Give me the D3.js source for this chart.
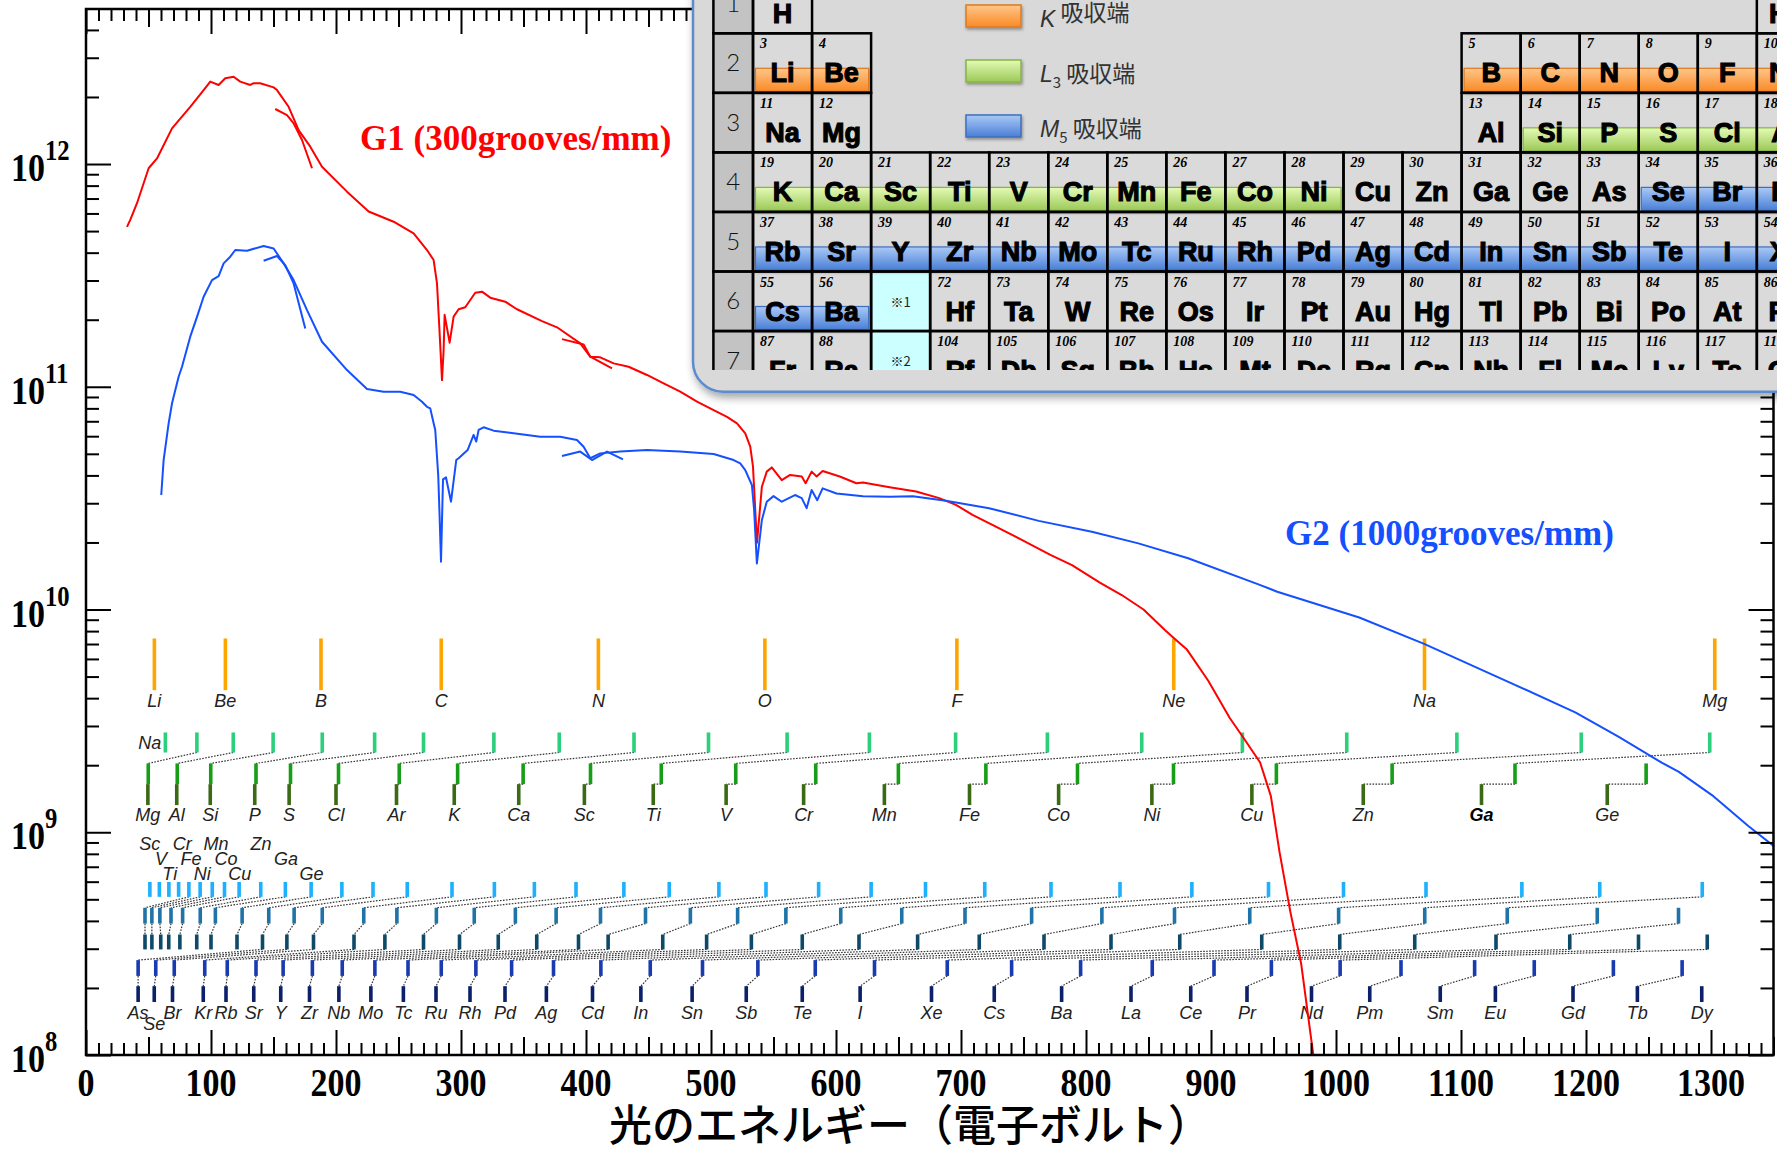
<!DOCTYPE html>
<html>
<head>
<meta charset="utf-8">
<script src="https://cdn.jsdelivr.net/npm/d3@7"></script>
<style>
  body { margin: 0; background: #fff; }
  svg { display: block; }
</style>
</head>
<body>
<svg id="chart" width="1777" height="1154"></svg>
<script>
// ---- photon flux curves: [photon energy (eV), log10(flux)] ----
var g1Main = [[32.8,11.718],[35.4,11.749],[40.8,11.824],[50.1,11.981],[56.8,12.025],[68.8,12.160],[83.4,12.257],[94.1,12.332],[99.4,12.370],[106.1,12.355],[111.4,12.385],[118.1,12.392],[123.4,12.370],[131.4,12.355],[134.1,12.363],[139.4,12.363],[150.1,12.344],[152.8,12.332],[162.1,12.257],[170.1,12.152],[179.4,12.078],[188.8,11.988],[208.8,11.876],[226.1,11.787],[246.1,11.741],[262.1,11.689],[272.8,11.614],[278.1,11.569],[280.8,11.464],[282.9,11.240],[284.8,11.030],[286.1,11.165],[286.9,11.323],[290.9,11.198],[294.1,11.315],[298.1,11.348],[303.4,11.357],[311.4,11.422],[316.8,11.427],[323.4,11.400],[335.4,11.382],[344.8,11.348],[364.8,11.295],[376.8,11.267],[395.4,11.195],[403.4,11.135],[411.4,11.132],[422.1,11.105],[434.1,11.090],[448.8,11.053],[462.1,11.015],[475.4,10.978],[488.8,10.933],[502.1,10.895],[512.8,10.865],[520.8,10.836],[527.4,10.791],[531.4,10.731],[533.6,10.641],[535.4,10.446],[536.8,10.300],[540.7,10.551],[544.6,10.619],[548.6,10.638],[556.6,10.581],[563.3,10.604],[572.6,10.597],[575.7,10.567],[580.5,10.619],[584.5,10.597],[589.3,10.622],[603.0,10.597],[616.3,10.567],[621.6,10.570],[642.9,10.549],[664.1,10.530],[682.6,10.500],[695.9,10.470],[709.2,10.425],[725.1,10.380],[749.0,10.312],[771.5,10.245],[788.8,10.199],[811.4,10.120],[828.6,10.065],[846.0,10.000],[863.1,9.908],[870.2,9.872],[880.5,9.822],[897.8,9.680],[915.0,9.513],[925.4,9.429],[939.3,9.313],[947.9,9.162],[954.8,8.912],[963.4,8.645],[972.1,8.411],[982.4,7.977]];
var g1Piece1 = [[151.4,12.247],[160.8,12.220],[166.1,12.183],[172.8,12.108],[180.8,11.981]];
var g1Piece2 = [[380.8,11.214],[398.1,11.190],[403.4,11.135],[420.8,11.083]];

var g2Main = [[60.2,10.514],[62.1,10.671],[66.1,10.836],[68.8,10.925],[70.1,10.955],[74.1,11.045],[76.8,11.090],[83.4,11.225],[88.8,11.314],[94.1,11.404],[100.8,11.479],[106.1,11.497],[110.1,11.554],[115.4,11.584],[119.4,11.614],[128.8,11.611],[142.1,11.632],[150.1,11.621],[158.1,11.554],[166.1,11.479],[176.8,11.344],[188.8,11.202],[208.8,11.075],[224.8,10.990],[238.1,10.978],[251.4,10.978],[262.1,10.963],[268.8,10.933],[272.8,10.910],[275.4,10.903],[278.1,10.836],[279.4,10.806],[280.8,10.686],[281.8,10.600],[282.9,10.416],[284.0,10.215],[285.6,10.584],[288.0,10.593],[292.0,10.484],[296.2,10.671],[298.1,10.679],[305.3,10.716],[310.1,10.784],[312.2,10.754],[314.1,10.806],[318.1,10.818],[326.1,10.803],[342.1,10.791],[363.4,10.776],[379.4,10.776],[392.8,10.761],[398.1,10.731],[403.4,10.679],[411.4,10.701],[427.4,10.709],[448.8,10.716],[475.4,10.709],[502.1,10.698],[518.1,10.671],[523.4,10.656],[527.4,10.626],[532.7,10.559],[534.5,10.446],[536.7,10.207],[540.7,10.402],[544.6,10.484],[550.0,10.509],[556.6,10.484],[567.2,10.514],[572.6,10.500],[576.5,10.455],[580.5,10.537],[585.0,10.491],[589.3,10.544],[600.4,10.521],[621.6,10.509],[642.9,10.506],[661.4,10.509],[687.9,10.488],[722.5,10.455],[762.2,10.398],[804.7,10.349],[841.9,10.297],[881.7,10.230],[937.4,10.114],[953.0,10.080],[1018.6,9.964],[1070.5,9.846],[1139.6,9.671],[1191.4,9.538],[1225.9,9.429],[1260.5,9.313],[1274.3,9.271],[1301.9,9.162],[1329.6,9.029],[1350.3,8.937]];
var g2Piece1 = [[142.1,11.566],[152.8,11.587],[159.4,11.546],[166.1,11.464],[175.4,11.262]];
var g2Piece2 = [[380.8,10.689],[395.4,10.709],[404.8,10.671],[416.8,10.709],[429.6,10.674]];

// ---- absorption edges (eV) ----
var kNames = ["Li","Be","B","C","N","O","F","Ne","Na","Mg"];
var kEv = [54.7,111.5,188,284.2,409.9,543.1,696.7,870.2,1070.8,1303.0];

var lNames = ["Na","Mg","Al","Si","P","S","Cl","Ar","K","Ca","Sc","Ti","V","Cr","Mn","Fe","Co","Ni","Cu","Zn","Ga","Ge"];
var l1Ev = [63.5,88.7,117.8,149.7,189,230.9,270,326.3,378.6,438.4,498.0,560.9,626.7,695.7,769.1,844.6,925.1,1008.6,1096.7,1196.2,1299.0,null];
var l2Ev = [null,49.8,73.0,99.8,136,163.6,202,250.6,297.3,349.7,403.6,460.2,519.8,583.8,649.9,719.9,793.2,870.0,952.3,1044.9,1143.2,1248.1];
var l3Ev = [null,49.5,72.6,99.4,135,162.5,200,248.4,294.6,346.2,398.7,453.8,512.1,574.1,638.7,706.8,778.1,852.7,932.7,1021.8,1116.4,1217.0];

var mNames = ["Sc","Ti","V","Cr","Mn","Fe","Co","Ni","Cu","Zn","Ga","Ge","As","Se","Br","Kr","Rb","Sr","Y","Zr","Nb","Mo","Tc","Ru","Rh","Pd","Ag","Cd","In","Sn","Sb","Te","I","Xe","Cs","Ba","La","Ce","Pr","Nd","Pm","Sm","Eu","Gd","Tb","Dy"];
var m1Ev = [51.1,58.7,66.3,74.1,82.3,91.3,101.0,110.8,122.5,139.8,159.5,180.1,204.7,229.6,257,292.8,326.7,358.7,392.0,430.3,466.6,506.3,544,586.1,628.1,671.6,719.0,772.0,827.2,884.7,946,1006,1072,1148.7,1211,1293,null,null,null,null,null,null,null,null,null,null];
var m2Ev = [null,null,null,null,47.2,52.7,59.1,68.0,77.3,91.4,103.5,124.9,146.2,166.5,189,222.2,248.7,280.3,310.6,343.5,376.1,411.6,447.6,483.5,521.3,559.9,603.8,652.6,703.2,756.5,812.7,870.8,931,1002.1,1071,1137,1209,1274,null,null,null,null,null,null,null,null];
var m3Ev = [null,null,null,null,47.2,52.7,59.8,66.2,75.1,88.6,100.0,120.8,141.2,160.7,182,214.4,239.1,270.0,298.8,329.8,360.6,394.0,417.7,461.4,496.5,532.3,573.0,618.4,665.3,714.6,766.4,820.0,875,940.6,1003,1063,1128,1187,1242,1297,null,null,null,null,null,null];
var m4Ev = [null,null,null,null,null,null,null,null,null,null,null,null,41.7,55.8,70.6,95.0,113,136,157.7,181.1,205.0,231.1,257.6,284.2,311.9,340.5,374.0,411.9,451.4,493.2,537.5,583.4,630.8,689.0,740.5,795.7,853,902.4,948.3,1003.3,1052,1110.9,1158.6,1221.9,1276.9,null];
var m5Ev = [null,null,null,null,null,null,null,null,null,null,null,null,41.7,54.6,69.2,93.8,112,134.2,155.8,178.8,202.3,227.9,253.9,280.0,307.2,335.2,368.3,405.2,443.9,484.9,528.2,573.0,619.3,676.4,726.6,780.5,836,883.8,928.8,980.4,1027,1083.4,1127.5,1189.6,1241.1,1292.6];
// labels of the light-element M1 bars (name, energy under label, stack line)
var mTopLabels = [["Sc",51,0],["Cr",77,0],["Mn",104,0],["Zn",140,0],["V",60,1],["Fe",84,1],["Co",112,1],["Ga",160,1],["Ti",67,2],["Ni",93,2],["Cu",123,2],["Ge",180.5,2]];

// ---- axis ticks ----
var xMajor = d3.range(0, 1351, 100);
var yMajor = [1e8, 1e9, 1e10, 1e11, 1e12];

// ---- periodic table inset ----
var ptRows = [
  {row:1, col:1, z:1, syms:"H"}, {row:1, col:18, z:2, syms:"He"},
  {row:2, col:1, z:3, syms:"Li Be"}, {row:2, col:13, z:5, syms:"B C N O F Ne"},
  {row:3, col:1, z:11, syms:"Na Mg"}, {row:3, col:13, z:13, syms:"Al Si P S Cl Ar"},
  {row:4, col:1, z:19, syms:"K Ca Sc Ti V Cr Mn Fe Co Ni Cu Zn Ga Ge As Se Br Kr"},
  {row:5, col:1, z:37, syms:"Rb Sr Y Zr Nb Mo Tc Ru Rh Pd Ag Cd In Sn Sb Te I Xe"},
  {row:6, col:1, z:55, syms:"Cs Ba"}, {row:6, col:4, z:72, syms:"Hf Ta W Re Os Ir Pt Au Hg Tl Pb Bi Po At Rn"},
  {row:7, col:1, z:87, syms:"Fr Ra"}, {row:7, col:4, z:104, syms:"Rf Db Sg Bh Hs Mt Ds Rg Cn Nh Fl Mc Lv Ts Og"}
];
var ptSeries = [{row:6, col:3, text:"※1"}, {row:7, col:3, text:"※2"}];
var bandSpans = [
  {edge:"K", row:2, from:1, to:2}, {edge:"K", row:2, from:13, to:18},
  {edge:"L", row:3, from:14, to:18}, {edge:"L", row:4, from:1, to:10},
  {edge:"M", row:4, from:16, to:18}, {edge:"M", row:5, from:1, to:18}, {edge:"M", row:6, from:1, to:2}
];

// ------------------------------------------------------------------
var svg = d3.select("#chart");
var W = 1777, H = 1154;
var plotL = 86, plotR = 1773.5, plotT = 9, plotB = 1055;

var x = d3.scaleLinear().domain([0, 1350]).range([plotL, plotR]);
var y = d3.scaleLog().domain([1e8, Math.pow(10, 12.696)]).range([plotB, plotT]);
function yl(v) { return y(Math.pow(10, v)); }

svg.append("rect").attr("width", W).attr("height", H).attr("fill", "#fff");

var defs = svg.append("defs");
defs.append("clipPath").attr("id", "plotClip").append("rect")
  .attr("x", plotL).attr("y", plotT).attr("width", plotR - plotL).attr("height", plotB - plotT);
var sh = defs.append("filter").attr("id", "shadow").attr("x", "-10%").attr("y", "-10%").attr("width", "130%").attr("height", "140%");
sh.append("feDropShadow").attr("dx", 2).attr("dy", 5).attr("stdDeviation", 4).attr("flood-color", "#000").attr("flood-opacity", 0.35);
var sh2 = defs.append("filter").attr("id", "bandShadow").attr("x", "-10%").attr("y", "-30%").attr("width", "120%").attr("height", "180%");
sh2.append("feDropShadow").attr("dx", 1).attr("dy", 2).attr("stdDeviation", 1.5).attr("flood-color", "#000").attr("flood-opacity", 0.35);

var bandColors = {
  K: {top:"#ffc68a", bot:"#f98a26", line:"#e07a1e"},
  L: {top:"#e4fab6", bot:"#9cc957", line:"#86b446"},
  M: {top:"#aac9f6", bot:"#4a7fd6", line:"#3d6fc0"}
};
Object.keys(bandColors).forEach(function(k) {
  var gr = defs.append("linearGradient").attr("id", "grad" + k).attr("x1", 0).attr("y1", 0).attr("x2", 0).attr("y2", 1);
  gr.append("stop").attr("offset", "0%").attr("stop-color", bandColors[k].top);
  gr.append("stop").attr("offset", "100%").attr("stop-color", bandColors[k].bot);
});

// ---- edge markers ----
var marks = svg.append("g").attr("clip-path", "url(#plotClip)");
var barW = 3.6;
var labelFont = "'Liberation Sans', Arial, sans-serif";

function drawBars(values, top, bot, color) {
  marks.append("g").selectAll("rect")
    .data(values.filter(function(v) { return v != null; }))
    .enter().append("rect")
    .attr("x", function(d) { return x(d) - barW / 2; })
    .attr("y", yl(top))
    .attr("width", barW)
    .attr("height", yl(bot) - yl(top))
    .attr("fill", color);
}

function drawLinks(upper, lower, upperBot, lowerTop) {
  var pairs = [];
  for (var i = 0; i < upper.length; i++) {
    if (upper[i] != null && lower[i] != null) pairs.push([upper[i], lower[i]]);
  }
  marks.append("g").selectAll("line")
    .data(pairs).enter().append("line")
    .attr("x1", function(d) { return x(d[0]); })
    .attr("y1", yl(upperBot))
    .attr("x2", function(d) { return x(d[1]); })
    .attr("y2", yl(lowerTop))
    .attr("stroke", "#333")
    .attr("stroke-width", 1.2)
    .attr("stroke-dasharray", "1.6,1.4");
}

function drawLabels(names, values, base, extra) {
  var items = [];
  for (var i = 0; i < names.length; i++) if (values[i] != null) items.push([names[i], values[i]]);
  marks.append("g").selectAll("text")
    .data(items).enter().append("text")
    .attr("x", function(d) { return x(d[1]); })
    .attr("y", function(d) { return yl(base) + (extra ? extra(d[0]) : 0); })
    .attr("text-anchor", "middle")
    .attr("font-family", labelFont)
    .attr("font-style", "italic")
    .attr("font-size", 18)
    .attr("fill", "#222")
    .text(function(d) { return d[0]; });
}

// K edges
drawBars(kEv, 9.870, 9.638, "#ffa500");
drawLabels(kNames, kEv, 9.562);

// L edges
drawLinks(l1Ev, l2Ev, 9.358, 9.309);
drawLinks(l2Ev, l3Ev, 9.216, 9.216);
drawBars(l1Ev, 9.448, 9.358, "#2ad07a");
drawBars(l2Ev, 9.309, 9.216, "#179e17");
drawBars(l3Ev, 9.216, 9.122, "#3c6a14");
drawLabels(lNames, l3Ev, 9.050);
marks.selectAll("text").filter(function(d) { return d && d[0] === "Ga" && d[1] === l3Ev[20]; })
  .attr("font-weight", "bold").attr("fill", "#000");
marks.append("text")
  .attr("x", x(l1Ev[0]) - 4).attr("y", yl(9.372))
  .attr("text-anchor", "end").attr("font-family", labelFont).attr("font-style", "italic")
  .attr("font-size", 18).attr("fill", "#222").text(lNames[0]);

// M edges
drawLinks(m1Ev, m2Ev, 8.710, 8.661);
drawLinks(m2Ev, m3Ev, 8.590, 8.541);
drawLinks(m3Ev, m4Ev, 8.474, 8.426);
drawLinks(m4Ev, m5Ev, 8.355, 8.309);
drawBars(m1Ev, 8.777, 8.710, "#1cb0ff");
drawBars(m2Ev, 8.661, 8.590, "#1f73a6");
drawBars(m3Ev, 8.541, 8.474, "#0e4a68");
drawBars(m4Ev, 8.426, 8.355, "#1a3bb0");
drawBars(m5Ev, 8.309, 8.238, "#0b2068");
drawLabels(mNames, m5Ev, 8.161, function(n) { return n === "Se" ? 11 : 0; });
var topLevels = [8.922, 8.855, 8.787];
marks.append("g").selectAll("text")
  .data(mTopLabels).enter().append("text")
  .attr("x", function(d) { return x(d[1]); })
  .attr("y", function(d) { return yl(topLevels[d[2]]); })
  .attr("text-anchor", "middle").attr("font-family", labelFont).attr("font-style", "italic")
  .attr("font-size", 18).attr("fill", "#222")
  .text(function(d) { return d[0]; });

// ---- curves ----
var line = d3.line()
  .x(function(d) { return x(d[0]); })
  .y(function(d) { return y(Math.pow(10, d[1])); });
var curves = svg.append("g").attr("clip-path", "url(#plotClip)").attr("fill", "none").attr("stroke-width", 2).attr("stroke-linejoin", "round");
[g1Main, g1Piece1, g1Piece2].forEach(function(s) {
  curves.append("path").attr("d", line(s)).attr("stroke", "#ff0000");
});
[g2Main, g2Piece1, g2Piece2].forEach(function(s) {
  curves.append("path").attr("d", line(s)).attr("stroke", "#1450ff");
});

// ---- frame & ticks ----
function tickSet(vals, size, axisFn, tx, ty) {
  var g = svg.append("g").attr("transform", "translate(" + tx + "," + ty + ")")
    .call(axisFn.tickValues(vals).tickSizeInner(size).tickSizeOuter(0).tickFormat(""));
  g.select(".domain").remove();
  g.selectAll("line").attr("stroke", "#000").attr("stroke-width", 2);
}
var xMinor = d3.range(0, 1351, 10).filter(function(v) { return v % 50 !== 0; });
var xMid = d3.range(50, 1351, 100);
tickSet(xMinor, 12, d3.axisTop(x), 0, plotB);
tickSet(xMid, 18, d3.axisTop(x), 0, plotB);
tickSet(xMajor, 25, d3.axisTop(x), 0, plotB);
tickSet(xMinor, 12, d3.axisBottom(x), 0, plotT);
tickSet(xMid, 18, d3.axisBottom(x), 0, plotT);
tickSet(xMajor, 25, d3.axisBottom(x), 0, plotT);

var yMinor = [];
[8, 9, 10, 11, 12].forEach(function(e) {
  for (var k = 2; k <= 9; k++) {
    var v = k * Math.pow(10, e);
    if (v < y.domain()[1]) yMinor.push(v);
  }
});
tickSet(yMinor, 13, d3.axisRight(y), plotL, 0);
tickSet(yMajor, 25, d3.axisRight(y), plotL, 0);
tickSet(yMinor, 13, d3.axisLeft(y), plotR, 0);
tickSet(yMajor, 25, d3.axisLeft(y), plotR, 0);

svg.append("rect")
  .attr("x", plotL).attr("y", plotT).attr("width", plotR - plotL).attr("height", plotB - plotT)
  .attr("fill", "none").attr("stroke", "#000").attr("stroke-width", 2.5);

var serif = "'Liberation Serif', 'Times New Roman', serif";
svg.append("g").selectAll("text")
  .data(xMajor).enter().append("text")
  .attr("transform", function(d) { return "translate(" + x(d) + ",1096) scale(0.85,1)"; })
  .attr("text-anchor", "middle").attr("font-family", serif).attr("font-weight", "bold")
  .attr("font-size", 40).attr("fill", "#000")
  .text(function(d) { return d; });

var yLab = svg.append("g").selectAll("text")
  .data(yMajor).enter().append("text")
  .attr("transform", function(d) { return "translate(11," + (y(d) + 17) + ") scale(0.85,1)"; })
  .attr("font-family", serif).attr("font-weight", "bold").attr("fill", "#000");
yLab.append("tspan").attr("font-size", 40).text("10");
yLab.append("tspan").attr("font-size", 29).attr("dy", -21)
  .text(function(d) { return Math.round(Math.log10(d)); });

svg.append("text")
  .attr("x", 910).attr("y", 1141)
  .attr("text-anchor", "middle")
  .attr("font-family", "'Noto Sans CJK JP', sans-serif").attr("font-weight", 500)
  .attr("font-size", 43).attr("fill", "#000")
  .text("光のエネルギー（電子ボルト）");

svg.append("text").attr("x", 360).attr("y", 150)
  .attr("font-family", serif).attr("font-weight", "bold").attr("font-size", 35).attr("fill", "#ff0000")
  .text("G1 (300grooves/mm)");
svg.append("text").attr("x", 1285).attr("y", 545)
  .attr("font-family", serif).attr("font-weight", "bold").attr("font-size", 35).attr("fill", "#1450ff")
  .text("G2 (1000grooves/mm)");

// ---- periodic table inset ----
var inset = svg.append("g");
inset.append("rect")
  .attr("x", 693).attr("y", -60).attr("width", 1200).attr("height", 451.7).attr("rx", 30)
  .attr("fill", "#d9d9d9").attr("stroke", "#5b8ccc").attr("stroke-width", 2.5)
  .attr("filter", "url(#shadow)");
defs.append("clipPath").attr("id", "tableClip").append("rect")
  .attr("x", 700).attr("y", -40).attr("width", 1100).attr("height", 410);
var table = inset.append("g").attr("clip-path", "url(#tableClip)");

var colX = d3.scaleLinear().domain([1, 19]).range([753, 753 + 18 * 59.05]);
var rowY = d3.scaleLinear().domain([2, 8]).range([33.3, 33.3 + 6 * 59.55]);
var cellW = colX(2) - colX(1), cellH = rowY(3) - rowY(2);

var cells = [];
ptRows.forEach(function(r) {
  r.syms.split(" ").forEach(function(s, i) {
    cells.push({row: r.row, col: r.col + i, z: r.z + i, sym: s});
  });
});
var rowNums = d3.range(1, 8);

// cell backgrounds
table.append("g").selectAll("rect").data(rowNums).enter().append("rect")
  .attr("x", 713.4).attr("y", function(d) { return rowY(d); })
  .attr("width", colX(1) - 713.4).attr("height", cellH).attr("fill", "#c3c3c3");
table.append("g").selectAll("rect").data(cells).enter().append("rect")
  .attr("x", function(d) { return colX(d.col); }).attr("y", function(d) { return rowY(d.row); })
  .attr("width", cellW).attr("height", cellH).attr("fill", "#dadada");
table.append("g").selectAll("rect").data(ptSeries).enter().append("rect")
  .attr("x", function(d) { return colX(d.col); }).attr("y", function(d) { return rowY(d.row); })
  .attr("width", cellW).attr("height", cellH).attr("fill", "#ccffff");

// absorption-edge bands
table.append("g").selectAll("rect").data(bandSpans).enter().append("rect")
  .attr("x", function(d) { return colX(d.from) + 2.5; })
  .attr("y", function(d) { return rowY(d.row) + 35; })
  .attr("width", function(d) { return colX(d.to + 1) - colX(d.from) - 5; })
  .attr("height", 23)
  .attr("fill", function(d) { return "url(#grad" + d.edge + ")"; })
  .attr("stroke", function(d) { return bandColors[d.edge].line; })
  .attr("stroke-width", 1.2)
  .attr("filter", "url(#bandShadow)");

// grid
var grid = table.append("g").attr("fill", "none").attr("stroke", "#000").attr("stroke-width", 2.5);
grid.selectAll(".rl").data(rowNums).enter().append("rect")
  .attr("x", 713.4).attr("y", function(d) { return rowY(d); })
  .attr("width", colX(1) - 713.4).attr("height", cellH);
grid.selectAll(".c").data(cells.concat(ptSeries)).enter().append("rect")
  .attr("x", function(d) { return colX(d.col); }).attr("y", function(d) { return rowY(d.row); })
  .attr("width", cellW).attr("height", cellH);

// texts
table.append("g").selectAll("text").data(rowNums).enter().append("text")
  .attr("x", (713.4 + colX(1)) / 2).attr("y", function(d) { return rowY(d) + cellH / 2 + 8; })
  .attr("text-anchor", "middle").attr("font-family", "Lato, 'Open Sans', sans-serif").attr("font-weight", 300)
  .attr("font-size", 24).attr("fill", "#111")
  .text(function(d) { return d; });
table.append("g").selectAll("text").data(cells).enter().append("text")
  .attr("x", function(d) { return colX(d.col) + 7; }).attr("y", function(d) { return rowY(d.row) + 15; })
  .attr("font-family", serif).attr("font-weight", "bold").attr("font-style", "italic")
  .attr("font-size", 14).attr("fill", "#000")
  .text(function(d) { return d.z; });
table.append("g").selectAll("text").data(cells).enter().append("text")
  .attr("x", function(d) { return colX(d.col) + cellW / 2; }).attr("y", function(d) { return rowY(d.row) + 49; })
  .attr("text-anchor", "middle").attr("font-family", labelFont).attr("font-weight", "bold")
  .attr("font-size", 27).attr("fill", "#000").attr("stroke", "#000").attr("stroke-width", 1.1)
  .text(function(d) { return d.sym; });
table.append("g").selectAll("text").data(ptSeries).enter().append("text")
  .attr("x", function(d) { return colX(d.col) + cellW / 2; }).attr("y", function(d) { return rowY(d.row) + 35; })
  .attr("text-anchor", "middle").attr("font-family", "'Noto Sans CJK JP', sans-serif")
  .attr("font-size", 13).attr("fill", "#222")
  .text(function(d) { return d.text; });

// legend
var legendItems = [
  {edge:"K", main:"K", sub:"", y:5},
  {edge:"L", main:"L", sub:"3", y:60},
  {edge:"M", main:"M", sub:"5", y:115}
];
var leg = inset.append("g").selectAll("g").data(legendItems).enter().append("g");
leg.append("rect")
  .attr("x", 966).attr("y", function(d) { return d.y; }).attr("width", 55).attr("height", 22)
  .attr("fill", function(d) { return "url(#grad" + d.edge + ")"; })
  .attr("stroke", function(d) { return bandColors[d.edge].line; }).attr("stroke-width", 1.5)
  .attr("filter", "url(#bandShadow)");
var lt = leg.append("text")
  .attr("x", 1040).attr("y", function(d) { return d.y + 22; })
  .attr("font-family", "'Noto Sans CJK JP', sans-serif").attr("font-size", 23).attr("fill", "#333");
lt.append("tspan").attr("font-family", labelFont).attr("font-style", "italic").text(function(d) { return d.main; });
lt.append("tspan").attr("font-size", 15).attr("dy", 6).text(function(d) { return d.sub; });
lt.append("tspan").attr("dy", -6).text(" 吸収端");
</script>
</body>
</html>
